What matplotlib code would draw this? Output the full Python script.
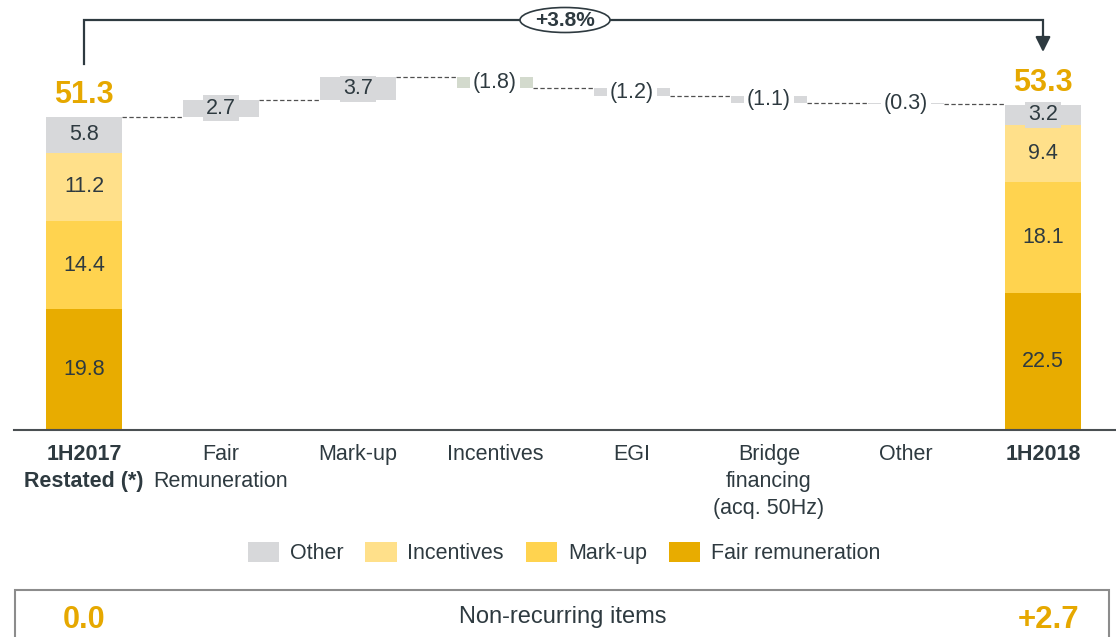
import matplotlib
matplotlib.use("Agg")
import matplotlib.pyplot as plt
from matplotlib.patches import Ellipse, Rectangle, Patch

plt.rcParams['font.family'] = ['Liberation Sans', 'DejaVu Sans']

# ---------------- data ----------------
categories = ['1H2017\nRestated (*)', 'Fair\nRemuneration', 'Mark-up', 'Incentives',
              'EGI', 'Bridge\nfinancing\n(acq. 50Hz)', 'Other', '1H2018']
components = ['Fair remuneration', 'Mark-up', 'Incentives', 'Other']
start_parts = [19.8, 14.4, 11.2, 5.8]
end_parts = [22.5, 18.1, 9.4, 3.2]
totals = [51.3, 53.3]
deltas = [2.7, 3.7, -1.8, -1.2, -1.1, -0.3]
growth_label = '+3.8%'
nonrec_label = 'Non-recurring items'
nonrec_start = '0.0'
nonrec_end = '+2.7'

# ---------------- style ----------------
comp_colors = {'Fair remuneration': '#e8ac00', 'Mark-up': '#ffd34f',
               'Incentives': '#ffe08a', 'Other': '#d7d8da'}
delta_colors = ['#d7d8da', '#d7d8da', '#d3dacd', '#d7d8da', '#d7d8da', '#d7d8da']
txt = '#2e3a40'
gold = '#e6a800'
fs = 15.5

W, H = 1116, 637
fig = plt.figure(figsize=(W / 100, H / 100), dpi=100)
ppu = 6.11  # pixels per unit
base_px = 430
ax = fig.add_axes([14 / W, (H - base_px) / H, (W - 14) / W, base_px / H])
ax.set_ylim(0, base_px / ppu)
ax.set_xlim((14 - 84) / 137, (W - 84) / 137)
bw = 0.56

# start & end stacked bars
n = len(categories)
for xi, parts, tot in ((0, start_parts, totals[0]), (n - 1, end_parts, totals[1])):
    bottom = 0
    for comp, v in zip(components, parts):
        ax.bar(xi, v, bw, bottom=bottom, color=comp_colors[comp], linewidth=0, zorder=2)
        bb = None
        if comp == 'Other':
            bb = dict(boxstyle='square,pad=0.12', fc=comp_colors[comp], ec='none')
        ax.text(xi, bottom + v / 2, f'{v:.1f}', ha='center', va='center',
                fontsize=fs, color=txt, zorder=4, bbox=bb)
        bottom += v
    ax.annotate(f'{tot:.1f}', (xi, bottom), xytext=(0, 10),
                textcoords='offset points', ha='center', va='baseline',
                fontsize=22, fontweight='bold', color=gold)

# floating deltas
level = totals[0]
prev_right = 0 + bw / 2
for i, d in enumerate(deltas):
    xi = i + 1
    lo, hi = (level, level + d) if d >= 0 else (level + d, level)
    ax.plot([prev_right, xi - bw / 2], [level, level], color='#505050', lw=0.9,
            dashes=(3.5, 2), zorder=1)
    ax.bar(xi, hi - lo, bw, bottom=lo, color=delta_colors[i], linewidth=0, zorder=2)
    if d >= 0:
        ax.text(xi, (lo + hi) / 2, f'{d:.1f}', ha='center', va='center', fontsize=fs,
                color=txt, zorder=4,
                bbox=dict(boxstyle='square,pad=0.12', fc=delta_colors[i], ec='none'))
    else:
        ax.text(xi, (lo + hi) / 2, f'({abs(d):.1f})', ha='center', va='center',
                fontsize=fs, color=txt, zorder=4,
                bbox=dict(boxstyle='square,pad=0.15', fc='white', ec='none'))
    level += d
    prev_right = xi + bw / 2
ax.plot([prev_right, n - 1 - bw / 2], [level, level], color='#505050', lw=0.9,
        dashes=(3.5, 2), zorder=1)

# axis styling
for s in ('left', 'right', 'top'):
    ax.spines[s].set_visible(False)
ax.spines['bottom'].set_color('#4a4f52')
ax.spines['bottom'].set_linewidth(1.5)
ax.set_yticks([])
ax.set_xticks(range(n))
ax.set_xticklabels(categories, fontsize=fs, color=txt)
ax.tick_params(axis='x', length=0, pad=10)
for k, lab in enumerate(ax.get_xticklabels()):
    lab.set_linespacing(1.38)
    if k in (0, n - 1):
        lab.set_fontweight('bold')
ax.set_facecolor('none')

# growth bracket
ytop = (base_px - 20) / ppu
yl = (base_px - 64) / ppu
ax.plot([0, 0, n - 1, n - 1], [yl, ytop, ytop, (base_px - 36) / ppu], color=txt,
        lw=1.6, clip_on=False, solid_joinstyle='miter', zorder=3)
ax.annotate('', xy=(n - 1, (base_px - 52) / ppu), xytext=(n - 1, (base_px - 35) / ppu),
            arrowprops=dict(arrowstyle='-|>,head_length=0.9,head_width=0.45', color=txt,
                            lw=1.6, shrinkA=0, shrinkB=0), annotation_clip=False)
ex = (565 - 84) / 137
ax.add_patch(Ellipse((ex, ytop), 90 / 137, 25 / ppu, fc='white', ec=txt, lw=1.2,
                     clip_on=False, zorder=5))
ax.text(ex, ytop, growth_label, ha='center', va='center', fontsize=15,
        fontweight='bold', color=txt, zorder=6)

# legend
handles = [Patch(fc=comp_colors[c], ec='none') for c in reversed(components)]
labels = list(reversed(components))
fig.legend(handles, labels, loc='center', bbox_to_anchor=(564 / W, 1 - 553 / H),
           ncol=4, frameon=False, fontsize=fs, handlelength=1.45, handleheight=1.05,
           handletextpad=0.5, columnspacing=1.02, labelcolor=txt)

# non-recurring box
fig.patches.append(Rectangle((15 / W, -0.02), 1094 / W, (H - 590) / H + 0.02,
                             transform=fig.transFigure, fc='none', ec='#8c8c8c', lw=1.5))
fig.text(563 / W, 1 - 623 / H, nonrec_label, ha='center', va='baseline', fontsize=17,
         color=txt)
fig.text(84 / W, 1 - 628 / H, nonrec_start, ha='center', va='baseline', fontsize=22,
         fontweight='bold', color=gold)
fig.text(1049 / W, 1 - 628 / H, nonrec_end, ha='center', va='baseline', fontsize=22.5,
         fontweight='bold', color=gold)

fig.savefig('out.png', dpi=100)
